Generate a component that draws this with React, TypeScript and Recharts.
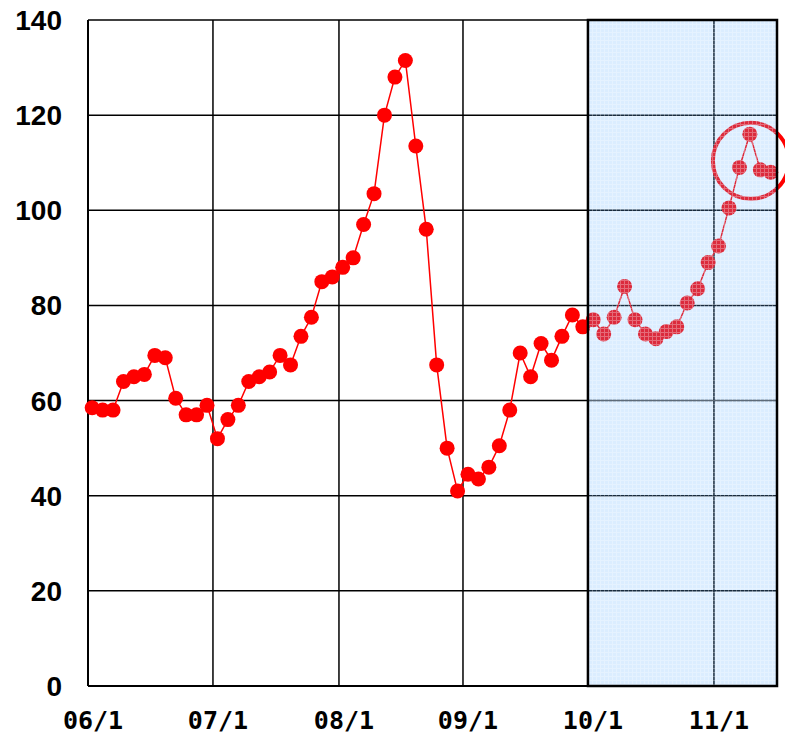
import {
  LineChart,
  Line,
  XAxis,
  YAxis,
  CartesianGrid,
  ReferenceArea,
  ReferenceDot,
} from 'recharts';

// one reading per step (about 12 per month)
const values = [
  58.5, 58, 58, 64, 65, 65.5, 69.5, 69, 60.5, 57, 57, 59,
  52, 56, 59, 64, 65, 66, 69.5, 67.5, 73.5, 77.5, 85, 86,
  88, 90, 97, 103.5, 120, 128, 131.5, 113.5, 96, 67.5, 50, 41,
  44.5, 43.5, 46, 50.5, 58, 70, 65, 72, 68.5, 73.5, 78, 75.5,
  77, 74, 77.5, 84, 77, 74, 73, 74.5, 75.5, 80.5, 83.5, 89,
  92.5, 100.5, 109, 116, 108.5, 108,
];

// month starts, in step units
const monthTicks = [-0.4, 11.57, 23.64, 35.52, 47.49, 59.56];
const monthLabels = ['06/1', '07/1', '08/1', '09/1', '10/1', '11/1'];
const yTicks = [0, 20, 40, 60, 80, 100, 120, 140];

// forecast window and the highlighted peak
const shadeStart = 47.49;
const shadeEnd = 65.6;
const highlightX = 63.1;
const highlightY = 110.4;

const data = values.map((v, i) => ({ t: i, v }));

const monthLabel = (t: number) => {
  const i = monthTicks.indexOf(t);
  return i >= 0 ? monthLabels[i] : '';
};

const App = () => {
  return (
    <div style={{ position: 'absolute', left: 0, top: 0, background: '#fff' }}>
      <svg width={0} height={0} style={{ position: 'absolute' }}>
        <defs>
          <pattern id="shade" width={4} height={4} patternUnits="userSpaceOnUse">
            <rect width={4} height={4} fill="rgb(103,178,255)" fillOpacity={0.24} />
            <rect x={0} y={0} width={4} height={1} fill="#ffffff" fillOpacity={0.3} />
            <rect x={0} y={1} width={1} height={3} fill="#ffffff" fillOpacity={0.3} />
          </pattern>
        </defs>
      </svg>
      <LineChart
        width={785}
        height={735}
        data={data}
        margin={{ top: 20, right: 8, bottom: 0, left: 0 }}
      >
        <CartesianGrid stroke="#000" strokeWidth={1.5} />
        <XAxis
          dataKey="t"
          type="number"
          domain={[-0.4, 65.6]}
          ticks={monthTicks}
          tickFormatter={monthLabel}
          allowDecimals
          height={49}
          tickSize={0}
          tickMargin={25}
          interval={0}
          axisLine={{ stroke: '#000', strokeWidth: 2 }}
          tick={{
            fill: '#000',
            fontSize: 25,
            fontWeight: 'bold',
            fontFamily: 'DejaVu Sans Mono',
            dx: 5,
          }}
        />
        <YAxis
          domain={[0, 140]}
          ticks={yTicks}
          width={88}
          tickSize={0}
          tickMargin={26}
          interval={0}
          axisLine={{ stroke: '#000', strokeWidth: 2 }}
          tick={{
            fill: '#000',
            fontSize: 28,
            fontWeight: 'bold',
            fontFamily: 'Liberation Sans',
          }}
        />
        <Line
          dataKey="v"
          stroke="#ff0000"
          strokeWidth={1.5}
          dot={{ r: 7.5, fill: '#ff0000', stroke: '#ff0000', strokeWidth: 0 }}
          activeDot={false}
          isAnimationActive={false}
        />
        <ReferenceDot
          x={highlightX}
          y={highlightY}
          r={38}
          fill="none"
          stroke="#ff0000"
          strokeWidth={4}
          ifOverflow="visible"
          zIndex={500}
        />
        <ReferenceArea
          x1={shadeStart}
          x2={shadeEnd}
          y1={0}
          y2={140}
          fill="url(#shade)"
          fillOpacity={1}
          stroke="#000"
          strokeWidth={2.5}
          ifOverflow="visible"
          zIndex={700}
        />
      </LineChart>
    </div>
  );
};

export default App;
